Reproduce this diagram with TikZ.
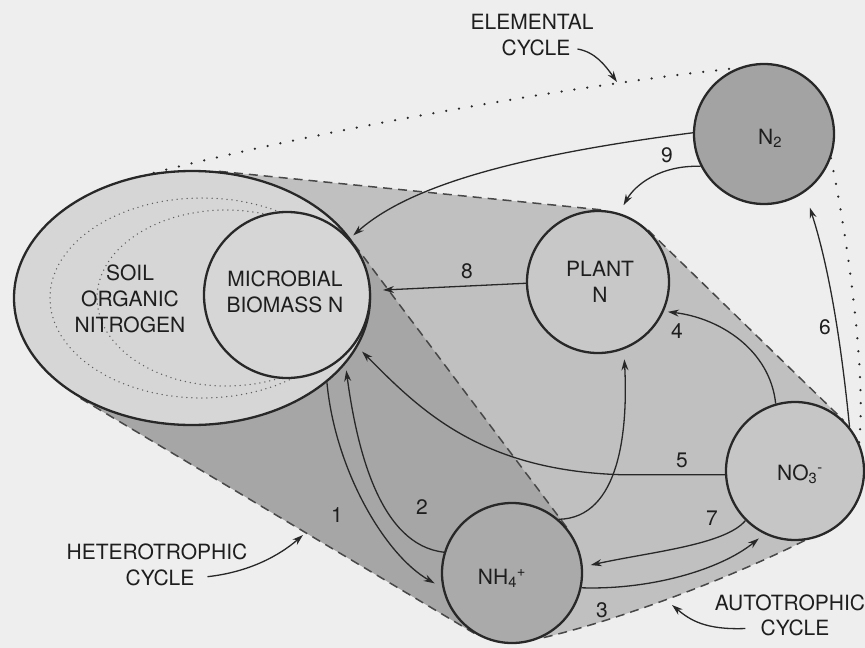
\documentclass[tikz,border=0pt]{standalone}
\usepackage{fontspec}
\setmainfont{TeX Gyre Heros}
\usetikzlibrary{shapes.geometric,arrows.meta}
\pgfdeclarelayer{bgA}
\pgfdeclarelayer{bgB}
\pgfdeclarelayer{bgC}
\pgfsetlayers{bgA,bgB,bgC,main}
\definecolor{bgc}{RGB}{238,238,238}
\definecolor{ink}{RGB}{40,40,40}
\definecolor{txt}{RGB}{30,30,30}
\definecolor{fellip}{RGB}{214,214,214}
\definecolor{fmed}{RGB}{192,192,192}
\definecolor{fdark}{RGB}{166,166,166}
\definecolor{fplant}{RGB}{200,200,200}
\definecolor{fntwo}{RGB}{163,163,163}
\definecolor{fnh}{RGB}{170,170,170}
\definecolor{fno}{RGB}{198,198,198}
\begin{document}
\begin{tikzpicture}[x=1pt,y=-1pt,
  pool/.style={circle,draw=ink,line width=2.3pt,inner sep=0pt},
  lbl/.style={font=\fontsize{21}{26}\selectfont,text=txt,align=center,inner sep=1pt},
  num/.style={font=\fontsize{21}{24}\selectfont,text=txt,inner sep=1pt},
  flow/.style={draw=ink,line width=1.3pt,-{Stealth[length=11pt,width=7pt]}},
  hull/.style={draw=ink!85,line width=1.5pt,dash pattern=on 9pt off 6pt},
  elem/.style={draw=ink,line width=2.5pt,line cap=round,dash pattern=on 0pt off 13pt},
  innerdot/.style={draw=ink!75,line width=1.5pt,line cap=round,dash pattern=on 0pt off 5pt},
]
\useasboundingbox (0,0) rectangle (865,648);
\begin{pgfonlayer}{bgA}
\fill[bgc] (0,0) rectangle (865,648);
\end{pgfonlayer}

% pools
\node[ellipse,draw=ink,line width=2.3pt,fill=fellip,minimum width=356pt,minimum height=254pt,inner sep=0pt] (som) at (192,298) {};
\draw[innerdot] (202,298) ellipse [x radius=152pt,y radius=100pt];
\draw[innerdot] (226,298) ellipse [x radius=129pt,y radius=88pt];
\node[pool,fill=fellip,minimum size=166pt] (mb) at (287,295) {};
\node[pool,fill=fplant,minimum size=142pt] (pl) at (598,282) {};
\node[pool,fill=fntwo,minimum size=140pt] (n2) at (764,134) {};
\node[pool,fill=fnh,minimum size=140pt] (nh) at (512,573) {};
\node[pool,fill=fno,minimum size=138pt] (no) at (795,471) {};

% shaded cycles
\begin{pgfonlayer}{bgB}
\fill[fmed] (som.78) -- (pl.84) -- (pl.center) -- (pl.46) -- (no.46) -- (no.center) -- (no.-82)
  .. controls (730,578) and (620,620) .. (nh.-67) -- (nh.center) -- (nh.238) -- (som.222) -- (som.center) -- cycle;
\end{pgfonlayer}
\begin{pgfonlayer}{bgC}
\fill[fdark] (som.222) -- (nh.238) -- (nh.center) -- (nh.38) -- (mb.37) -- (mb.center) -- (som.center) -- cycle;
\draw[hull] (som.78) -- (pl.84);
\draw[hull] (pl.46) -- (no.46);
\draw[hull] (no.-82) .. controls (730,578) and (620,620) .. (nh.-67);
\draw[hull] (som.222) -- (nh.238);
\draw[hull] (mb.37) -- (nh.38);
\end{pgfonlayer}

% elemental cycle
\draw[elem] (som.107) .. controls (300,135) and (550,88) .. (n2.112);
\draw[elem] (n2.-20) .. controls (850,250) and (866,380) .. (no.24);

% flows
\draw[flow,shorten >=5pt] (n2.179) .. controls (520,155) and (410,185) .. (mb.42);
\draw[flow,shorten >=9pt] (n2.207) .. controls (660,165) and (635,185) .. (pl.73);
\draw[flow,shorten >=12pt] (pl.181) -- (mb.3);
\draw[flow,shorten >=16pt] (no.39) .. controls (842,350) and (830,270) .. (n2.-55);
\draw[flow,shorten >=4pt] (no.106) .. controls (770,350) and (720,318) .. (pl.-24);
\draw[flow,shorten >=10pt] (no.183) -- ++(-105,0) .. controls (480,470) and (420,410) .. (mb.-36);
\draw[flow,shorten >=10pt] (nh.49) .. controls (620,518) and (628,430) .. (pl.-69);
\draw[flow,shorten >=9pt] (som.-32) .. controls (335,470) and (385,555) .. (nh.192);
\draw[flow,shorten >=14pt] (nh.163) .. controls (380,545) and (357,450) .. (mb.-47);
\draw[flow,shorten >=8pt] (no.225) .. controls (725,545) and (650,552) .. (nh.5);
\draw[flow,shorten >=7pt] (nh.-12) .. controls (650,590) and (720,570) .. (no.244);

% labels
\node[lbl] (ele1) at (532,22) {ELEMENTAL};
\node[lbl] (ele2) at (536,48) {CYCLE};
\node[lbl] (het1) at (157,552) {HETEROTROPHIC};
\node[lbl] (het2) at (160,578) {CYCLE};
\node[lbl] (aut1) at (790,603) {AUTOTROPHIC};
\node[lbl] (aut2) at (795,628) {CYCLE};
\coordinate (eleTip) at (617,82);
\coordinate (hetTip) at (303,535);
\coordinate (autTip) at (672,605);
\draw[flow,shorten <=6pt] (ele2.east) .. controls (595,52) and (605,65) .. (eleTip);
\draw[flow,shorten <=12pt] (het2.east) .. controls (250,572) and (280,555) .. (hetTip);
\draw[flow,shorten <=14pt] (aut2.west) .. controls (705,630) and (690,620) .. (autTip);

\node[lbl] (somT) at (130,299) {SOIL\\ORGANIC\\NITROGEN};
\node[lbl] (mbT) at (285,292) {MICROBIAL\\BIOMASS N};
\node[lbl] (plT) at (600,282) {PLANT\\N};
\node[lbl] (n2T) at (770,138) {N\textsubscript{2}};
\node[lbl] (nhT) at (502,578) {NH\textsubscript{4}\textsuperscript{+}};
\node[lbl] (noT) at (800,474) {NO\textsubscript{3}\textsuperscript{-}};

\node[num] (k1) at (337,515) {1};
\node[num] (k2) at (422,507) {2};
\node[num] (k3) at (602,610) {3};
\node[num] (k4) at (677,331) {4};
\node[num] (k5) at (682,460) {5};
\node[num] (k6) at (825,327) {6};
\node[num] (k7) at (712,518) {7};
\node[num] (k8) at (467,271) {8};
\node[num] (k9) at (667,155) {9};
\end{tikzpicture}
\end{document}
